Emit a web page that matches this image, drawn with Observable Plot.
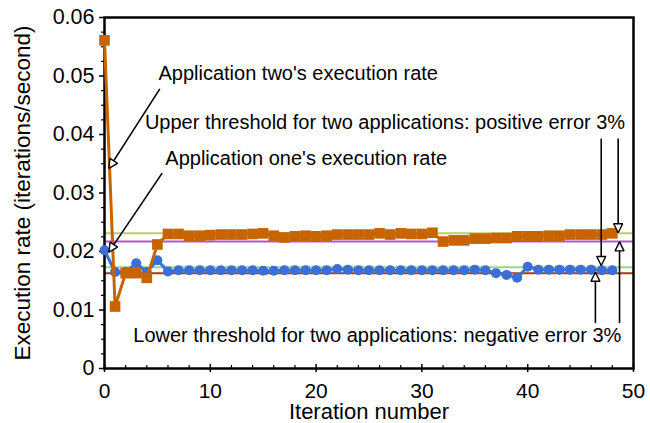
<!DOCTYPE html>
<html>
<head>
<meta charset="utf-8">
<script src="https://cdn.jsdelivr.net/npm/d3@7"></script>
<script src="https://cdn.jsdelivr.net/npm/@observablehq/plot@0.6"></script>
<style>
  html, body { margin: 0; padding: 0; background: #fff; }
  #chart svg { display: block; }
</style>
</head>
<body>
<div id="chart"></div>
<script>
// Execution rate per iteration for two co-running applications
const iterations = d3.range(0, 49);

const appTwoRate = [
  0.0561, 0.0106, 0.0163, 0.0163, 0.0155, 0.0212, 0.0230, 0.0230, 0.0227, 0.0227,
  0.0228, 0.0229, 0.0229, 0.0229, 0.0230, 0.0231, 0.0227, 0.0224, 0.0226, 0.0227,
  0.0226, 0.0227, 0.0229, 0.0229, 0.0229, 0.0229, 0.0231, 0.0229, 0.0231, 0.0230,
  0.0230, 0.0232, 0.0217, 0.0219, 0.0219, 0.0222, 0.0222, 0.0223, 0.0223, 0.0226,
  0.0226, 0.0226, 0.0227, 0.0227, 0.0229, 0.0229, 0.0229, 0.0229, 0.0231
];

const appOneRate = [
  0.0202, 0.0165, 0.0165, 0.0180, 0.0165, 0.0185, 0.0166, 0.0168, 0.0168, 0.0168,
  0.0168, 0.0168, 0.0168, 0.0168, 0.0168, 0.0167, 0.0167, 0.0168, 0.0168, 0.0168,
  0.0168, 0.0168, 0.0170, 0.0169, 0.0168, 0.0168, 0.0168, 0.0168, 0.0168, 0.0168,
  0.0168, 0.0168, 0.0168, 0.0168, 0.0168, 0.0169, 0.0168, 0.0163, 0.0160, 0.0155,
  0.0174, 0.0169, 0.0169, 0.0169, 0.0169, 0.0169, 0.0169, 0.0168, 0.0168
];

// ±3% thresholds around each application's steady rate
const thresholdNames = ["upper two", "lower two", "upper one", "lower one"];
const thresholdValues = [0.0231, 0.0217, 0.0173, 0.0163];
const thresholdColors = ["#bccf62", "#b452d2", "#94d884", "#b0360e"];

// Axis ticks
const xMajorTicks = [0, 10, 20, 30, 40, 50];
const xMinorTicks = d3.range(0, 51, 2).filter(d => d % 10 !== 0);
const yMajorTicks = [0, 0.01, 0.02, 0.03, 0.04, 0.05, 0.06];
const yMinorTicks = d3.range(0, 24).map(i => i * 0.0025).filter(d => Math.abs(d * 100 - Math.round(d * 100)) > 1e-9);

// Annotation texts (anchored at their left end, in data units)
const noteTexts = [
  "Application two's execution rate",
  "Upper threshold for two applications: positive error 3%",
  "Application one's execution rate",
  "Lower threshold for two applications: negative error 3%"
];
const noteX = [5.1, 3.82, 5.75, 2.72];
const noteY = [0.0504, 0.0421, 0.0359, 0.0056];

// Annotation arrows: start and tip, in data units
const arrowX1 = [5.23, 5.45, 46.95, 48.55, 46.4, 48.68];
const arrowY1 = [0.0478, 0.0334, 0.0393, 0.0393, 0.00775, 0.00775];
const arrowX2 = [0.41, 0.41, 46.95, 48.55, 46.4, 48.68];
const arrowY2 = [0.0342, 0.0199, 0.0176, 0.0232, 0.01646, 0.02165];

const seriesTwo = iterations.map((x, i) => ({x, y: appTwoRate[i]}));
const seriesOne = iterations.map((x, i) => ({x, y: appOneRate[i]}));
const thresholds = thresholdValues.map((y, i) => ({name: thresholdNames[i], y, color: thresholdColors[i]}));
const notes = noteTexts.map((text, i) => ({text, x: noteX[i], y: noteY[i]}));
const arrows = arrowX1.map((x1, i) => ({x1, y1: arrowY1[i], x2: arrowX2[i], y2: arrowY2[i]}));

// Open triangular arrowhead, tip at the end of the line
function openHead(color, context) {
  const ns = "http://www.w3.org/2000/svg";
  const doc = context.document;
  const marker = doc.createElementNS(ns, "marker");
  marker.setAttribute("viewBox", "-11 -5.5 12 11");
  marker.setAttribute("markerWidth", 12);
  marker.setAttribute("markerHeight", 11);
  marker.setAttribute("markerUnits", "userSpaceOnUse");
  marker.setAttribute("orient", "auto");
  marker.setAttribute("overflow", "visible");
  const path = doc.createElementNS(ns, "path");
  path.setAttribute("d", "M0,0L-9,-4.5L-9,4.5Z");
  path.setAttribute("fill", "white");
  path.setAttribute("stroke", color);
  path.setAttribute("stroke-width", 1.4);
  path.setAttribute("stroke-linejoin", "miter");
  marker.appendChild(path);
  return marker;
}

const W = 650, H = 423;
const mL = 104, mR = 17, mT = 17, mB = 55;
const innerW = W - mL - mR, innerH = H - mT - mB;

const orange = "#c86400";
const blue = "#3b6fd8";

const chart = Plot.plot({
  width: W,
  height: H,
  marginLeft: mL,
  marginRight: mR,
  marginTop: mT,
  marginBottom: mB,
  style: {fontFamily: "'Liberation Sans', Arial, sans-serif", fontSize: "21px", background: "white", color: "black"},
  x: {domain: [0, 50]},
  y: {domain: [0, 0.06]},
  marks: [
    // threshold lines
    Plot.ruleY(thresholds, {y: "y", stroke: "color", strokeWidth: 2}),
    // axes: labels only, ticks drawn below
    Plot.axisY(yMajorTicks, {tickSize: 0, tickPadding: 10, fontSize: 21.5, label: null, tickFormat: d => d === 0 ? "0" : d.toFixed(2)}),
    Plot.axisX(xMajorTicks, {tickSize: 0, tickPadding: 15, fontSize: 21, label: null, tickFormat: d => String(d)}),
    Plot.tickY(yMajorTicks, {y: d => d, insetLeft: -5, insetRight: innerW, stroke: "black", strokeWidth: 1.5}),
    Plot.tickY(yMinorTicks, {y: d => d, insetLeft: -3, insetRight: innerW, stroke: "black", strokeWidth: 1.2}),
    Plot.tickX(xMajorTicks, {x: d => d, insetTop: innerH - 4, insetBottom: -4, stroke: "black", strokeWidth: 1.5}),
    Plot.tickX(xMinorTicks, {x: d => d, insetTop: innerH - 3, stroke: "black", strokeWidth: 1.2}),
    Plot.frame({stroke: "black", strokeWidth: 2.5}),
    // axis titles
    Plot.text(["Execution rate (iterations/second)"], {frameAnchor: "left", dx: -82, rotate: -90, textAnchor: "middle", lineAnchor: "middle", fontSize: 22.5}),
    Plot.text(["Iteration number"], {frameAnchor: "bottom", dy: 43.5, textAnchor: "middle", lineAnchor: "middle", fontSize: 22}),
    // application one
    Plot.line(seriesOne, {x: "x", y: "y", stroke: blue, strokeWidth: 3}),
    Plot.dot(seriesOne, {x: "x", y: "y", r: 5, fill: blue, stroke: "none"}),
    // application two
    Plot.line(seriesTwo, {x: "x", y: "y", stroke: orange, strokeWidth: 3}),
    Plot.dot(seriesTwo, {x: "x", y: "y", r: 6, symbol: "square", fill: orange, stroke: "none"}),
    // annotations
    Plot.link(arrows, {x1: "x1", y1: "y1", x2: "x2", y2: "y2", stroke: "black", strokeWidth: 1.6, markerEnd: openHead}),
    Plot.text(notes, {x: "x", y: "y", text: "text", textAnchor: "start", fontSize: 20, fill: "black"})
  ]
});

document.getElementById("chart").appendChild(chart);
</script>
</body>
</html>
